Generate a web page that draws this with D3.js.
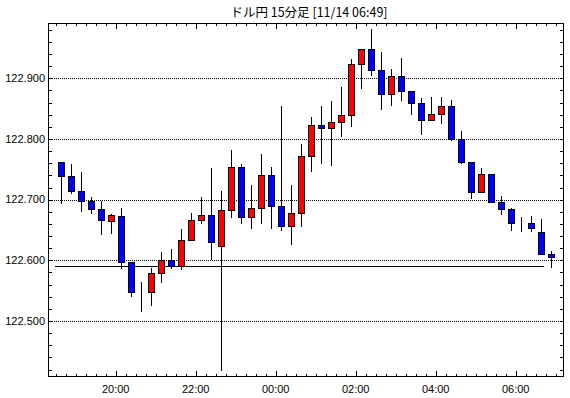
<!DOCTYPE html>
<html>
<head>
<meta charset="utf-8">
<script src="https://cdn.jsdelivr.net/npm/d3@7"></script>
<style>
  html, body { margin: 0; padding: 0; background: #fff; }
  svg { display: block; }
</style>
</head>
<body>
<div id="chart"></div>
<script>
// 15-minute candles, USD/JPY
const times = [
  "18:30","18:45","19:00","19:15","19:30","19:45","20:00","20:15","20:30","20:45",
  "21:00","21:15","21:30","21:45","22:00","22:15","22:30","22:45","23:00","23:15",
  "23:30","23:45","00:00","00:15","00:30","00:45","01:00","01:15","01:30","01:45",
  "02:00","02:15","02:30","02:45","03:00","03:15","03:30","03:45","04:00","04:15",
  "04:30","04:45","05:00","05:15","05:30","05:45","06:00","06:15","06:30","06:45"
];
const opens = [
  122.762,122.739,122.715,122.697,122.684,122.664,122.673,122.598,122.548,122.547,
  122.579,122.600,122.590,122.633,122.666,122.674,122.623,122.683,122.753,122.671,
  122.687,122.740,122.689,122.656,122.678,122.772,122.823,122.818,122.828,122.839,
  122.923,122.948,122.913,122.874,122.903,122.879,122.859,122.832,122.841,122.854,
  122.800,122.762,122.712,122.742,122.696,122.684,122.661,122.661,122.646,122.610
];
const highs = [
  122.762,122.759,122.746,122.704,122.698,122.676,122.686,122.598,122.564,122.587,
  122.614,122.619,122.652,122.678,122.704,122.752,122.714,122.782,122.759,122.724,
  122.775,122.754,122.854,122.724,122.792,122.836,122.854,122.863,122.886,122.931,
  122.948,122.981,122.943,122.915,122.933,122.879,122.867,122.869,122.869,122.865,
  122.813,122.762,122.752,122.743,122.706,122.687,122.672,122.673,122.668,122.615
];
const lows = [
  122.692,122.710,122.679,122.677,122.641,122.644,122.585,122.540,122.515,122.524,
  122.563,122.586,122.584,122.633,122.660,122.600,122.418,122.669,122.660,122.652,
  122.660,122.652,122.649,122.626,122.655,122.746,122.758,122.756,122.803,122.820,
  122.883,122.904,122.847,122.855,122.863,122.840,122.807,122.831,122.825,122.796,
  122.758,122.701,122.711,122.694,122.675,122.649,122.647,122.647,122.610,122.587
];
const closes = [
  122.739,122.715,122.697,122.684,122.666,122.674,122.598,122.548,122.548,122.579,
  122.600,122.590,122.634,122.666,122.674,122.630,122.683,122.753,122.671,122.687,
  122.740,122.689,122.656,122.678,122.772,122.823,122.818,122.828,122.839,122.923,
  122.948,122.913,122.874,122.903,122.879,122.859,122.832,122.841,122.854,122.800,
  122.762,122.712,122.742,122.696,122.684,122.661,122.661,122.653,122.610,122.605
];
const gridValues = [122.5, 122.6, 122.7, 122.8, 122.9];
const xTickLabels = ["20:00", "22:00", "00:00", "02:00", "04:00", "06:00"];
const refValue = 122.591;
const refSpan = ["18:29", "06:42"];
const title = "ドル円 15分足 [11/14 06:49]";

// times before 12:00 belong to the next day
function toDate(t) {
  const [h, m] = t.split(":").map(Number);
  const day = h < 12 ? 14 : 13;
  return new Date(Date.UTC(2015, 10, day, h, m));
}

const W = 570, H = 398;
const margin = { top: 23, right: 6, bottom: 21, left: 48 };
const width = W - margin.left - margin.right;
const height = H - margin.top - margin.bottom;

const svg = d3.select("#chart").append("svg")
  .attr("width", W)
  .attr("height", H)
  .attr("viewBox", `0 0 ${W} ${H}`);

const g = svg.append("g")
  .attr("transform", `translate(${margin.left},${margin.top})`)
  .attr("shape-rendering", "crispEdges");

const x = d3.scaleUtc()
  .domain([new Date(Date.UTC(2015, 10, 13, 18, 18, 30)), new Date(Date.UTC(2015, 10, 14, 7, 12, 30))])
  .range([0, width]);
const y = d3.scaleLinear()
  .domain([122.4077, 122.9911])
  .range([height, 0]);

const half = 7.5 * 60 * 1000;
const data = times.map((t, i) => ({
  t: new Date(toDate(t).getTime() + half),
  o: opens[i], h: highs[i], l: lows[i], c: closes[i]
}));

// Title
svg.append("text")
  .attr("x", 309)
  .attr("y", 17)
  .attr("text-anchor", "middle")
  .style("font-family", "'Noto Sans CJK JP', 'Liberation Sans', sans-serif")
  .style("font-size", "12.5px")
  .text(title);

// Grid lines
g.append("g").selectAll("line")
  .data(gridValues)
  .join("line")
  .attr("x1", 0).attr("x2", width)
  .attr("y1", d => Math.round(y(d)) + 0.5)
  .attr("y2", d => Math.round(y(d)) + 0.5)
  .attr("stroke", "#000")
  .attr("stroke-dasharray", "1,1");

// Y tick labels
svg.append("g").selectAll("text")
  .data(gridValues)
  .join("text")
  .attr("x", margin.left - 3)
  .attr("y", d => margin.top + y(d))
  .attr("dy", "0.35em")
  .attr("text-anchor", "end")
  .style("font-family", "'Liberation Sans', Arial, sans-serif")
  .style("font-size", "11px")
  .text(d => d.toFixed(3));

// Y minor ticks, left and right, pointing inward
const yTicks = d3.range(122.42, 122.99, 0.02);
const yt = g.append("g").attr("stroke", "#000");
yt.selectAll("line.l").data(yTicks).join("line").attr("class", "l")
  .attr("x1", 0).attr("x2", 4)
  .attr("y1", d => Math.round(y(d)) + 0.5).attr("y2", d => Math.round(y(d)) + 0.5);
yt.selectAll("line.r").data(yTicks).join("line").attr("class", "r")
  .attr("x1", width - 4).attr("x2", width)
  .attr("y1", d => Math.round(y(d)) + 0.5).attr("y2", d => Math.round(y(d)) + 0.5);

// X ticks, every 15 min; every 2 h longer
const xMinor = d3.utcMinute.every(15).range(x.domain()[0], x.domain()[1]);
const isMajor = d => d.getUTCMinutes() === 0 && d.getUTCHours() % 2 === 0;
const xt = g.append("g").attr("stroke", "#000");
xt.selectAll("line.b").data(xMinor).join("line").attr("class", "b")
  .attr("x1", d => Math.round(x(d)) + 0.5).attr("x2", d => Math.round(x(d)) + 0.5)
  .attr("y1", height).attr("y2", d => height - (isMajor(d) ? 6 : 3));
xt.selectAll("line.t").data(xMinor).join("line").attr("class", "t")
  .attr("x1", d => Math.round(x(d)) + 0.5).attr("x2", d => Math.round(x(d)) + 0.5)
  .attr("y1", 0).attr("y2", d => isMajor(d) ? 6 : 3);

// X labels
svg.append("g").selectAll("text")
  .data(xTickLabels)
  .join("text")
  .attr("x", d => margin.left + x(toDate(d)))
  .attr("y", 393)
  .attr("text-anchor", "middle")
  .style("font-family", "'Liberation Sans', Arial, sans-serif")
  .style("font-size", "11px")
  .text(d => d);

// Reference line
g.append("line")
  .attr("x1", x(toDate(refSpan[0])))
  .attr("x2", x(toDate(refSpan[1])))
  .attr("y1", Math.round(y(refValue)) + 0.5)
  .attr("y2", Math.round(y(refValue)) + 0.5)
  .attr("stroke", "#000");

// Candles
const candles = g.append("g").selectAll("g")
  .data(data)
  .join("g");
candles.append("line")
  .attr("x1", d => Math.round(x(d.t)) + 0.5)
  .attr("x2", d => Math.round(x(d.t)) + 0.5)
  .attr("y1", d => y(d.h))
  .attr("y2", d => y(d.l))
  .attr("stroke", "#000");
candles.append("rect")
  .attr("x", d => Math.round(x(d.t)) - 2.5)
  .attr("width", 6)
  .attr("y", d => Math.round(y(Math.max(d.o, d.c))) + 0.5)
  .attr("height", d => Math.max(0, Math.round(y(Math.min(d.o, d.c))) - Math.round(y(Math.max(d.o, d.c)))))
  .attr("fill", d => d.c > d.o ? "#ff0000" : "#0000ff")
  .attr("stroke", "#000");

// Frame
g.append("rect")
  .attr("x", 0.5).attr("y", 0.5)
  .attr("width", width - 1).attr("height", height - 1)
  .attr("fill", "none")
  .attr("stroke", "#000");
</script>
</body>
</html>
